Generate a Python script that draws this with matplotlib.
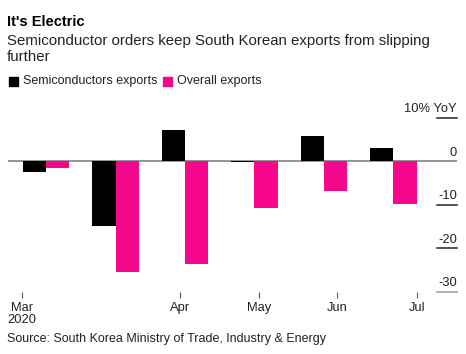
import numpy as np
import matplotlib.pyplot as plt

plt.rcParams['font.family'] = ['Liberation Sans', 'DejaVu Sans']

# values in % YoY, one pair per period
semis = [-2.5, -15.0, 7.2, -0.3, 5.8, 2.9]
overall = [-1.5, -25.5, -23.7, -10.7, -6.9, -9.8]
ytick_vals = [10, 0, -10, -20, -30]
ytick_labels = ['10% YoY', '0', '-10', '-20', '-30']
xtick_pos = [-0.345, 1.93, 3.06, 4.19, 5.34]
xtick_labels = ['Mar\n2020', 'Apr', 'May', 'Jun', 'Jul']

BLACK = '#000000'
PINK = '#f7078c'

fig = plt.figure(figsize=(4.66, 3.54), dpi=100)
W, H = 466, 354

def fx(px):
    return px / W

def fy(py):
    return 1 - py / H

ax = fig.add_axes([fx(8), fy(292), fx(457) - fx(8), fy(108.8) - fy(292)])
ax.set_xlim(-0.547, 5.914)
ax.set_ylim(-30.1, 12)

x = np.arange(len(semis))
w = 0.335
ax.bar(x - w / 2, semis, w, color=BLACK, zorder=2)
ax.bar(x + w / 2, overall, w, color=PINK, zorder=2)
ax.axhline(0, color='#8c8c8c', lw=1.3, zorder=1)

for s in ax.spines.values():
    s.set_visible(False)

# right-hand value ticks: short dashes with label above
ax.set_yticks([])
tr = ax.get_yaxis_transform()
for v, lab in zip(ytick_vals, ytick_labels):
    if v != 0:
        col = '#999999' if v == -30 else '#222222'
        ax.plot([0.955, 1.0], [v, v], transform=tr, color=col, lw=1.1,
                clip_on=False, zorder=1)
    ax.text(1.0, v + 0.5, lab, transform=tr, ha='right', va='bottom',
            fontsize=9.3, color='#222222')

ax.set_xticks(xtick_pos)
ax.set_xticklabels(xtick_labels, fontsize=9.3, color='#222222', linespacing=1.0)
ax.tick_params(axis='x', length=4, width=0.8, color='#555555', pad=3)

fig.text(fx(7), fy(22), "It's Electric", fontsize=10.5, fontweight='bold',
         va='center', ha='left')
fig.text(fx(7), fy(49), 'Semiconductor orders keep South Korean exports from slipping\nfurther',
         fontsize=10.8, va='center', ha='left', color='#222222', linespacing=1.1)

# legend
fig.patches.append(plt.Rectangle((fx(9), fy(86)), fx(9), fy(77) - fy(86),
                                 transform=fig.transFigure, color=BLACK))
fig.text(fx(23), fy(81), 'Semiconductors exports', fontsize=9, va='center',
         color='#222222')
fig.patches.append(plt.Rectangle((fx(163), fy(86)), fx(9), fy(77) - fy(86),
                                 transform=fig.transFigure, color=PINK))
fig.text(fx(177), fy(81), 'Overall exports', fontsize=9, va='center',
         color='#222222')

fig.text(fx(7), fy(339), 'Source: South Korea Ministry of Trade, Industry & Energy',
         fontsize=9, va='center', color='#222222')

fig.savefig('out.png', dpi=100)
